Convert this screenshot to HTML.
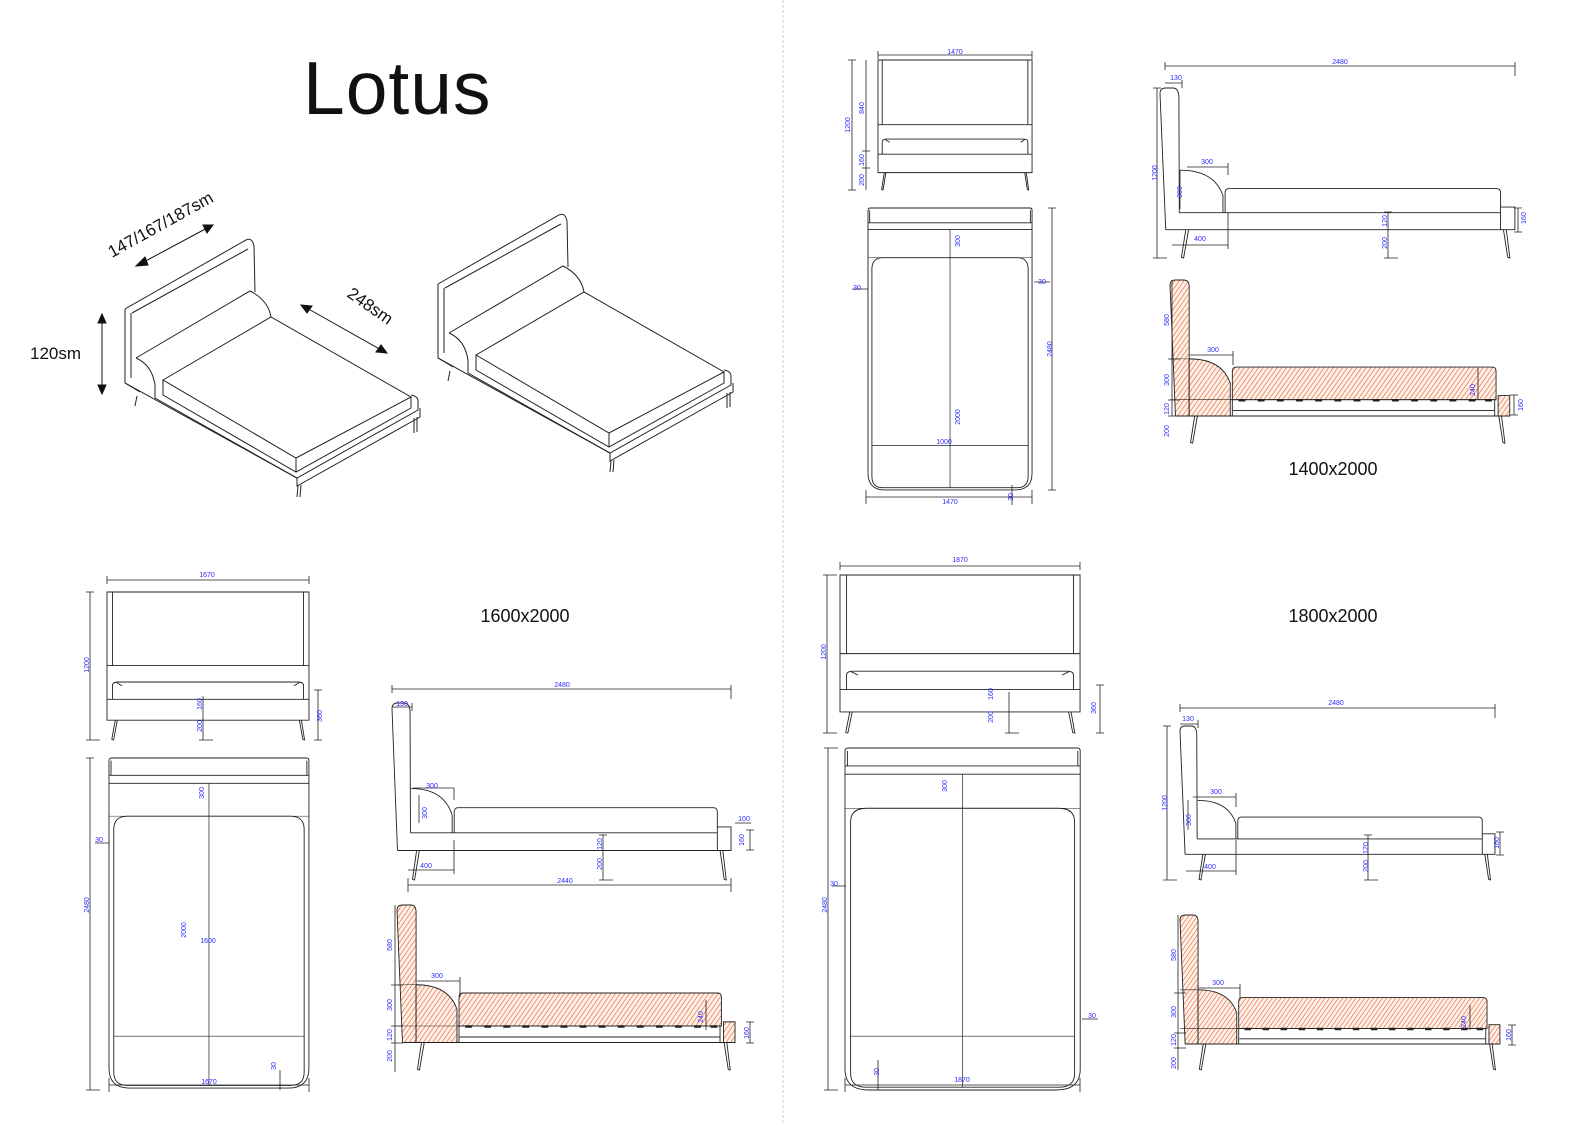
<!DOCTYPE html>
<html><head><meta charset="utf-8">
<style>
html,body{margin:0;padding:0;background:#fff}
svg{display:block}
.l, .l *{vector-effect:non-scaling-stroke}
.b{font-family:"Liberation Sans",sans-serif;font-size:7px;fill:#2a2aff}
.t{font-family:"Liberation Sans",sans-serif;fill:#111}
</style></head>
<body>
<svg width="1588" height="1123" viewBox="0 0 1588 1123" xmlns="http://www.w3.org/2000/svg">
<defs>
<pattern id="h" patternUnits="userSpaceOnUse" width="28" height="28" patternTransform="rotate(35)">
<rect width="28" height="28" fill="#fdf1ea"/>
<line x1="0" y1="0" x2="0" y2="28" stroke="#ea6a35" stroke-width="10" stroke-dasharray="60 20"/>
</pattern>
<g id="front" class="l" fill="none" stroke="#222" stroke-width="0.9">
<path d="M0 1040 L0 0 L1470 0 L1470 1040 Z"/>
<path d="M40 0 L40 597 L1430 597 L1430 0"/>
<path d="M0 597 L40 597 M1430 597 L1470 597"/>
<path d="M40 870 L40 760 Q40 730 80 730 L1390 730 Q1430 730 1430 760 L1430 870"/>
<path d="M70 735 L110 760 M1400 735 L1360 760"/>
<path d="M0 870 L1470 870"/>
<path d="M60 1040 L35 1195 L48 1200 L75 1040 M1400 1040 L1425 1195 L1438 1200 L1415 1040"/>
</g>
<g id="plan" class="l" fill="none" stroke="#222" stroke-width="0.9">
<path d="M0 2330 L0 20 Q0 0 20 0 L1450 0 Q1470 0 1470 20 L1470 2330 Q1470 2480 1320 2480 L150 2480 Q0 2480 0 2330 Z"/>
<path d="M15 130 L15 20 M1455 130 L1455 20"/>
<path d="M0 130 L1470 130 M0 190 L1470 190"/>
<path d="M35 2360 L35 537 Q35 437 135 437 L1335 437 Q1435 437 1435 537 L1435 2360 Q1435 2460 1335 2460 L135 2460 Q35 2460 35 2360 Z"/>
<path d="M0 437 L1470 437" stroke-width="0.5"/>
<path d="M735 190 L735 2460 M35 2090 L1435 2090" stroke-width="0.7"/>
</g>
<g id="side" class="l" fill="none" stroke="#222" stroke-width="0.9">
<path d="M40 1000 L0 40 Q0 0 40 0 L90 0 Q128 0 132 60 L135 880"/>
<path d="M135 880 L2380 880 M40 1000 L2380 1000"/>
<path d="M140 580 Q380 580 440 760 L440 880"/>
<path d="M455 880 L455 740 Q455 710 485 710 L2350 710 Q2380 710 2380 740 L2380 840"/>
<path d="M2380 840 L2480 840 L2480 1000 L2380 1000 Z"/>
<path d="M180 1000 L150 1195 L165 1200 L200 1000 M2400 1000 L2430 1195 L2445 1200 L2420 1000"/>
</g>
<g id="cut" class="l" stroke="#222" stroke-width="0.9">
<path d="M40 1000 L0 40 Q0 0 40 0 L100 0 Q140 0 140 50 L140 1000 Z" fill="url(#h)"/>
<path d="M140 580 Q380 580 440 760 L440 1000 L140 1000 Z" fill="url(#h)"/>
<path d="M455 880 L455 670 Q455 640 485 640 L2350 640 Q2380 640 2380 670 L2380 880 Z" fill="url(#h)"/>
<path d="M2395 850 L2480 850 L2480 1000 L2395 1000 Z" fill="url(#h)"/>
<path d="M0 580 L140 580 M0 880 L440 880" fill="none" stroke-width="0.6"/>
<path d="M440 880 L2380 880 M460 960 L2370 960 M40 1000 L2400 1000" fill="none"/>
<path d="M455 880 L455 1000 M2370 880 L2370 1000" fill="none"/>
<path d="M500 884h50M640 884h50M780 884h50M920 884h50M1060 884h50M1200 884h50M1340 884h50M1480 884h50M1620 884h50M1760 884h50M1900 884h50M2040 884h50M2180 884h50M2300 884h50" fill="none" stroke-width="2.5"/>
<path d="M180 1000 L150 1195 L165 1200 L200 1000 M2400 1000 L2430 1195 L2445 1200 L2420 1000" fill="none"/>
</g>
<g id="iso" fill="none" stroke="#222" stroke-width="1">
<path d="M125 309 L246 240 Q252 237 254 246 L255 292"/>
<path d="M132 313 L248 249"/>
<path d="M125 309 L125 383 L297 478"/>
<path d="M131 313 L131 378"/>
<path d="M136 358 L250 291 Q268 300 271 317"/>
<path d="M136 358 Q152 365 155 385"/>
<path d="M163 380 L271 317 L411 397 L296 458 Z"/>
<path d="M163 380 L163 395 L296 472 L411 408 L411 397"/>
<path d="M296 458 L296 472"/>
<path d="M155 385 L155 398 L297 478 L418 410 L418 400 Q417 396 411 395"/>
<path d="M125 383 L140 392 M297 478 L297 486 L420 417 L420 408"/>
<path d="M298 486 L297 497 M301 485 L300 497 M137 396 L135 406 M414 418 L414 433 M417 417 L417 432"/>
</g>
</defs>

<line x1="783" y1="0" x2="783" y2="1123" stroke="#ccc" stroke-width="1" stroke-dasharray="3 2"/>

<text x="303" y="114" class="t" font-size="75" font-weight="normal" letter-spacing="1">Lotus</text>
<text x="1333" y="475" class="t" font-size="18" text-anchor="middle">1400x2000</text>
<text x="525" y="622" class="t" font-size="18" text-anchor="middle">1600x2000</text>
<text x="1333" y="622" class="t" font-size="18" text-anchor="middle">1800x2000</text>

<use href="#iso"/>
<use href="#iso" transform="translate(313,-25)"/>
<g fill="#111" stroke="#111" stroke-width="1">
<line x1="140" y1="264" x2="209" y2="227"/>
<polygon points="136,266 145,257 148,265"/><polygon points="213,225 203,225 207,233"/>
<line x1="305" y1="307" x2="383" y2="351"/>
<polygon points="301,305 312,306 307,313"/><polygon points="387,353 376,352 381,345"/>
<line x1="102" y1="318" x2="102" y2="390"/>
<polygon points="102,314 98,323 106,323"/><polygon points="102,394 98,385 106,385"/>
</g>
<text x="30" y="359" class="t" font-size="17">120sm</text>
<text class="t" font-size="17" transform="translate(112,258) rotate(-29)">147/167/187sm</text>
<text class="t" font-size="17" transform="translate(346,296) rotate(35)">248sm</text>

<use href="#front" transform="translate(878,60) scale(0.1048,0.1083)"/>
<use href="#plan" transform="translate(868,208) scale(0.1116,0.1137)"/>
<use href="#side" transform="translate(1160,88) scale(0.1431,0.1417)"/>
<use href="#cut" transform="translate(1170,280) scale(0.137,0.136)"/>
<use href="#front" transform="translate(107,592) scale(0.1374,0.1233)"/>
<use href="#plan" transform="translate(109,758) scale(0.136,0.1331)"/>
<use href="#side" transform="translate(392,703) scale(0.1367,0.1475)"/>
<use href="#cut" transform="translate(397,905) scale(0.1363,0.1375)"/>
<use href="#front" transform="translate(840,575) scale(0.1633,0.1317)"/>
<use href="#plan" transform="translate(845,748) scale(0.16,0.1379)"/>
<use href="#side" transform="translate(1180,726) scale(0.127,0.1283)"/>
<use href="#cut" transform="translate(1180,915) scale(0.129,0.129)"/>

<g stroke="#222" stroke-width="0.8" fill="none">
<path d="M878 55H1032M878 51v8M1032 51v8"/>
<path d="M852 60V190M848 60h8M848 190h8M866 60V190M862 151h8M862 168h8"/>
<path d="M1052 208V490M1048 208h8M1048 490h8"/>
<path d="M866 497H1032M866 490v14M1032 490v14M1012 485v20"/>
<path d="M852 289h16M1034 282h16"/>
<path d="M1165 66H1515M1165 62v8M1515 62v14"/>
<path d="M1165 83H1182M1182 80v8"/>
<path d="M1157 88V258M1153 88h8M1153 258h14"/>
<path d="M1187 167H1228M1228 163v12M1180 170V209"/>
<path d="M1172 245H1228M1228 212v37"/>
<path d="M1388 212V258M1384 212h8M1384 258h14M1388 230h0"/>
<path d="M1518 208V232M1514 208h8M1514 232h8"/>
<path d="M1172 280V416M1168 359h12M1168 400h12M1168 416h12"/>
<path d="M1190 355H1233M1233 351v14"/>
<path d="M1478 368V400M1514 395V415M1510 395h8M1510 415h8"/>
<path d="M107 580H309M107 576v8M309 576v8"/>
<path d="M90 592V740M86 592h8M86 740h14"/>
<path d="M203 696V740M199 740h14M318 690V740M314 690h8M314 740h8"/>
<path d="M90 758V1090M86 758h8M86 1090h14"/>
<path d="M109 1085H309M109 1078v14M309 1078v14M280 1070v20M95 843h14"/>
<path d="M392 689H731M392 685v8M731 685v14"/>
<path d="M392 707H412M412 703v8M454 788V800M413 788H454M419 795V823"/>
<path d="M408 870H454M454 840v34M408 885H731M408 878v14M731 878v14"/>
<path d="M603 835V880M599 835h8M599 880h14"/>
<path d="M735 823h16M750 830V850M746 830h8M746 850h8"/>
<path d="M395 905V1072M391 985h12M391 1026h12M391 1043h12"/>
<path d="M417 981H460M460 977v20"/>
<path d="M706 1000V1030M750 1022V1043M746 1022h8M746 1043h8"/>
<path d="M840 566H1080M840 562v8M1080 562v8"/>
<path d="M827 575V733M823 575h14M823 733h14"/>
<path d="M1009 692V733M1005 733h14M1100 685V733M1096 685h8M1096 733h8"/>
<path d="M828 748V1090M824 748h14M824 1090h14"/>
<path d="M845 1085H1080M845 1078v14M1080 1078v14M878 1060v30M832 886h14M1082 1019h16"/>
<path d="M1180 708H1495M1180 704v8M1495 704v14"/>
<path d="M1180 724H1198M1198 720v8"/>
<path d="M1167 726V880M1163 726h8M1163 880h14"/>
<path d="M1193 797H1236M1236 793v14M1188 800V830"/>
<path d="M1186 871H1236M1236 840v35"/>
<path d="M1368 835V880M1364 835h8M1364 880h14"/>
<path d="M1500 832V855M1496 832h8M1496 855h8"/>
<path d="M1178 915V1070M1174 993h12M1174 1033h12M1174 1048h12"/>
<path d="M1198 988H1240M1240 984v14"/>
<path d="M1470 1005V1030M1512 1025V1045M1508 1025h8M1508 1045h8"/>
</g>

<g class="b">
<text x="955" y="54" text-anchor="middle">1470</text>
<text transform="translate(850,125) rotate(-90)" text-anchor="middle">1200</text>
<text transform="translate(864,108) rotate(-90)" text-anchor="middle">840</text>
<text transform="translate(864,160) rotate(-90)" text-anchor="middle">160</text>
<text transform="translate(864,180) rotate(-90)" text-anchor="middle">200</text>
<text transform="translate(1052,349) rotate(-90)" text-anchor="middle">2480</text>
<text x="950" y="504" text-anchor="middle">1470</text>
<text transform="translate(960,241) rotate(-90)" text-anchor="middle">300</text>
<text transform="translate(960,417) rotate(-90)" text-anchor="middle">2000</text>
<text x="944" y="444" text-anchor="middle">1000</text>
<text x="857" y="290" text-anchor="middle">30</text>
<text x="1042" y="284" text-anchor="middle">30</text>
<text transform="translate(1013,497) rotate(-90)" text-anchor="middle">30</text>
<text x="1340" y="64" text-anchor="middle">2480</text>
<text x="1176" y="80" text-anchor="middle">130</text>
<text transform="translate(1157,173) rotate(-90)" text-anchor="middle">1200</text>
<text x="1207" y="164" text-anchor="middle">300</text>
<text transform="translate(1182,192) rotate(-90)" text-anchor="middle">300</text>
<text x="1200" y="241" text-anchor="middle">400</text>
<text transform="translate(1387,221) rotate(-90)" text-anchor="middle">120</text>
<text transform="translate(1387,243) rotate(-90)" text-anchor="middle">200</text>
<text transform="translate(1526,218) rotate(-90)" text-anchor="middle">160</text>
<text transform="translate(1169,320) rotate(-90)" text-anchor="middle">580</text>
<text x="1213" y="352" text-anchor="middle">300</text>
<text transform="translate(1169,380) rotate(-90)" text-anchor="middle">300</text>
<text transform="translate(1169,409) rotate(-90)" text-anchor="middle">120</text>
<text transform="translate(1169,431) rotate(-90)" text-anchor="middle">200</text>
<text transform="translate(1475,390) rotate(-90)" text-anchor="middle">240</text>
<text transform="translate(1523,405) rotate(-90)" text-anchor="middle">160</text>
<text x="207" y="577" text-anchor="middle">1670</text>
<text transform="translate(89,665) rotate(-90)" text-anchor="middle">1200</text>
<text transform="translate(202,704) rotate(-90)" text-anchor="middle">160</text>
<text transform="translate(202,726) rotate(-90)" text-anchor="middle">200</text>
<text transform="translate(322,716) rotate(-90)" text-anchor="middle">360</text>
<text transform="translate(204,793) rotate(-90)" text-anchor="middle">300</text>
<text x="99" y="842" text-anchor="middle">30</text>
<text transform="translate(89,905) rotate(-90)" text-anchor="middle">2480</text>
<text transform="translate(186,930) rotate(-90)" text-anchor="middle">2000</text>
<text x="208" y="943" text-anchor="middle">1600</text>
<text x="209" y="1084" text-anchor="middle">1670</text>
<text transform="translate(276,1066) rotate(-90)" text-anchor="middle">30</text>
<text x="562" y="687" text-anchor="middle">2480</text>
<text x="402" y="706" text-anchor="middle">130</text>
<text x="432" y="788" text-anchor="middle">300</text>
<text transform="translate(427,813) rotate(-90)" text-anchor="middle">300</text>
<text x="744" y="821" text-anchor="middle">100</text>
<text transform="translate(744,840) rotate(-90)" text-anchor="middle">160</text>
<text transform="translate(602,844) rotate(-90)" text-anchor="middle">120</text>
<text transform="translate(602,864) rotate(-90)" text-anchor="middle">200</text>
<text x="426" y="868" text-anchor="middle">400</text>
<text x="565" y="883" text-anchor="middle">2440</text>
<text transform="translate(392,945) rotate(-90)" text-anchor="middle">580</text>
<text x="437" y="978" text-anchor="middle">300</text>
<text transform="translate(392,1005) rotate(-90)" text-anchor="middle">300</text>
<text transform="translate(392,1035) rotate(-90)" text-anchor="middle">120</text>
<text transform="translate(392,1056) rotate(-90)" text-anchor="middle">200</text>
<text transform="translate(703,1017) rotate(-90)" text-anchor="middle">240</text>
<text transform="translate(749,1033) rotate(-90)" text-anchor="middle">160</text>
<text x="960" y="562" text-anchor="middle">1870</text>
<text transform="translate(826,652) rotate(-90)" text-anchor="middle">1200</text>
<text transform="translate(993,694) rotate(-90)" text-anchor="middle">160</text>
<text transform="translate(993,717) rotate(-90)" text-anchor="middle">200</text>
<text transform="translate(1096,708) rotate(-90)" text-anchor="middle">360</text>
<text transform="translate(947,786) rotate(-90)" text-anchor="middle">300</text>
<text x="834" y="886" text-anchor="middle">30</text>
<text transform="translate(827,905) rotate(-90)" text-anchor="middle">2480</text>
<text x="1092" y="1018" text-anchor="middle">30</text>
<text transform="translate(879,1072) rotate(-90)" text-anchor="middle">30</text>
<text x="962" y="1082" text-anchor="middle">1870</text>
<text x="1336" y="705" text-anchor="middle">2480</text>
<text x="1188" y="721" text-anchor="middle">130</text>
<text transform="translate(1167,803) rotate(-90)" text-anchor="middle">1200</text>
<text x="1216" y="794" text-anchor="middle">300</text>
<text transform="translate(1191,820) rotate(-90)" text-anchor="middle">300</text>
<text x="1210" y="869" text-anchor="middle">400</text>
<text transform="translate(1368,848) rotate(-90)" text-anchor="middle">120</text>
<text transform="translate(1368,866) rotate(-90)" text-anchor="middle">200</text>
<text transform="translate(1499,843) rotate(-90)" text-anchor="middle">160</text>
<text transform="translate(1176,955) rotate(-90)" text-anchor="middle">580</text>
<text x="1218" y="985" text-anchor="middle">300</text>
<text transform="translate(1176,1012) rotate(-90)" text-anchor="middle">300</text>
<text transform="translate(1176,1040) rotate(-90)" text-anchor="middle">120</text>
<text transform="translate(1176,1063) rotate(-90)" text-anchor="middle">200</text>
<text transform="translate(1466,1022) rotate(-90)" text-anchor="middle">240</text>
<text transform="translate(1511,1035) rotate(-90)" text-anchor="middle">160</text>
</g>
</svg>
</body></html>
